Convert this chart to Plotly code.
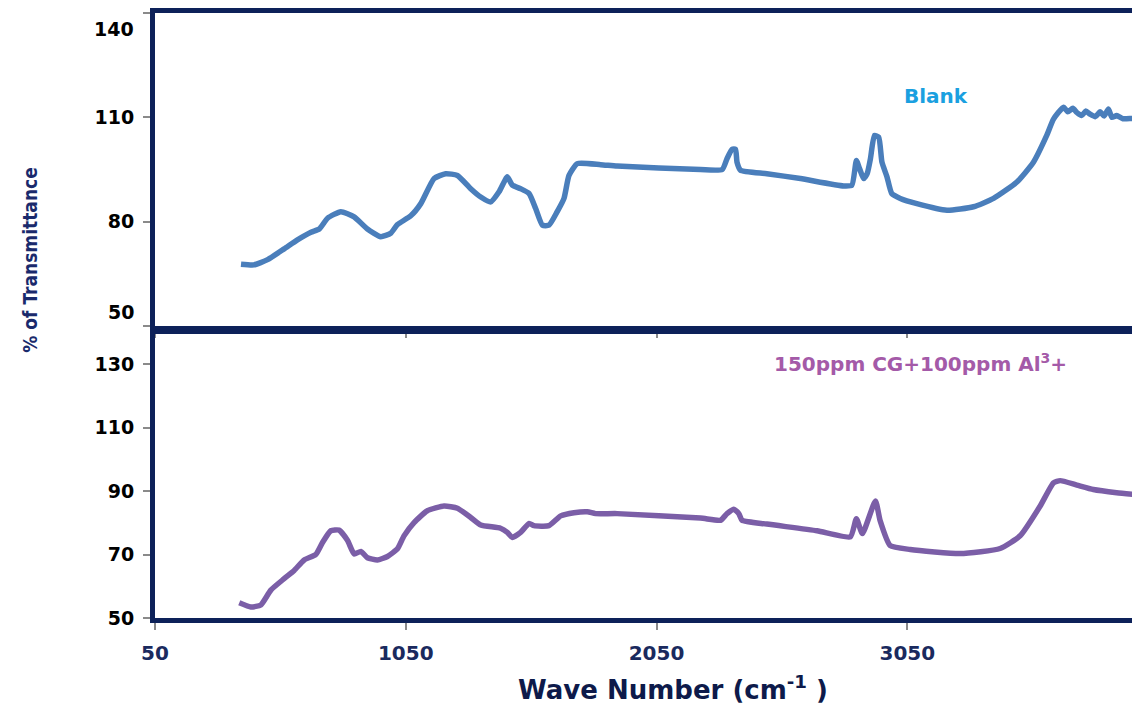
import plotly.graph_objects as go

# ---- data ----
blank_wn = [393, 444, 499, 565, 618, 672, 705, 738, 791, 844, 897, 950, 990, 1017, 1070, 1110,
            1163, 1209, 1256, 1309, 1349, 1389, 1422, 1455, 1475, 1508, 1542, 1568, 1595, 1621,
            1654, 1681, 1701, 1734, 1827, 1893, 2225, 2312, 2331, 2351, 2365, 2371, 2385, 2490,
            2624, 2796, 2829, 2847, 2860, 2876, 2890, 2903, 2919, 2936, 2949, 2969, 2988, 3022,
            3088, 3208, 3314, 3394, 3487, 3553, 3606, 3633, 3673, 3690, 3710, 3726, 3745, 3762,
            3779, 3800, 3819, 3835, 3852, 3866, 3885, 3910, 3952, 3978]
blank_t = [67.8, 67.6, 69.1, 72.2, 74.8, 77.0, 77.9, 81.0, 82.9, 81.4, 77.9, 75.7, 76.7, 79.2,
           81.7, 85.2, 92.4, 93.8, 93.3, 89.5, 87.1, 85.7, 88.6, 92.9, 90.5, 89.5, 88.1, 83.8,
           79.0, 79.0, 82.9, 86.7, 93.3, 96.7, 96.4, 96.0, 95.0, 95.0, 98.1, 100.8, 100.8, 97.1,
           94.8, 93.8, 92.4, 90.3, 90.5, 97.6, 95.2, 92.4, 93.8, 98.1, 104.8, 104.3, 97.1, 92.9,
           88.1, 86.7, 85.2, 83.3, 84.3, 86.7, 91.4, 97.1, 104.8, 109.5, 112.9, 111.6, 112.6,
           111.4, 110.5, 111.8, 110.9, 110.2, 111.6, 110.4, 112.4, 110.0, 110.5, 109.6, 109.7, 109.5]

al_wn = [386, 432, 472, 512, 565, 605, 645, 691, 718, 751, 784, 818, 844, 871, 897, 937, 977,
         1017, 1043, 1083, 1136, 1203, 1256, 1309, 1349, 1428, 1455, 1475, 1508, 1542, 1561,
         1621, 1668, 1721, 1774, 1807, 1893, 2225, 2305, 2331, 2358, 2378, 2391, 2490, 2690,
         2823, 2847, 2871, 2923, 2942, 2982, 3062, 3261, 3420, 3500, 3580, 3633, 3660, 3726,
         3792, 3885, 3978]
al_t = [54.8, 53.5, 54.1, 58.8, 62.4, 65.0, 68.3, 70.0, 73.8, 77.5, 77.7, 74.4, 70.2, 71.0,
        69.0, 68.3, 69.4, 71.8, 75.9, 80.1, 83.8, 85.3, 84.6, 81.7, 79.3, 78.3, 77.0, 75.4,
        77.0, 79.8, 79.1, 79.1, 82.2, 83.2, 83.5, 82.9, 82.9, 81.5, 80.8, 82.9, 84.3, 82.9,
        80.8, 79.6, 77.5, 75.6, 81.3, 76.6, 86.9, 80.6, 72.8, 71.6, 70.3, 71.9, 75.9, 85.3,
        92.6, 93.3, 91.9, 90.5, 89.5, 88.8]

x_ticks = [50, 1050, 2050, 3050]
top_y_ticks = [50, 80, 110, 140]
top_y_labels = ["", "80", "110", ""]   # end labels drawn inset from their ticks, as in the reference
bot_y_ticks = [50, 70, 90, 110, 130]

NAVY = "#0d2159"
FRAME_W = 5
TICKFAMILY = "DejaVu Sans, Liberation Sans, Arial, sans-serif"

fig = go.Figure()
fig.add_trace(go.Scatter(x=blank_wn, y=blank_t, mode="lines",
                         line=dict(color="#4a7ebb", width=5.5, shape="spline", smoothing=0.5),
                         xaxis="x", yaxis="y", showlegend=False))
fig.add_trace(go.Scatter(x=al_wn, y=al_t, mode="lines",
                         line=dict(color="#7b5ea7", width=5.5, shape="spline", smoothing=0.5),
                         xaxis="x2", yaxis="y2", showlegend=False))

tick_common = dict(ticks="outside", ticklen=7, tickcolor="#8a8a8a", tickwidth=1.5,
                   showgrid=False, zeroline=False, showline=True, linecolor=NAVY,
                   linewidth=FRAME_W)

# page body adds an 8px offset; figure is sized so the plot lands where the reference has it
fig.update_layout(
    width=1132, height=699,
    margin=dict(l=147, r=0, t=3, b=89),
    paper_bgcolor="white", plot_bgcolor="white",
    xaxis=dict(domain=[0, 1], range=[50, 3978], anchor="y", tickvals=x_ticks,
               showticklabels=False, mirror=True, **tick_common),
    yaxis=dict(domain=[0.4825, 1], range=[50, 140], anchor="x", tickvals=top_y_ticks,
               ticktext=top_y_labels, ticklabelstandoff=5,
               tickfont=dict(family=TICKFAMILY, size=19, color="black", weight="bold"),
               **tick_common),
    xaxis2=dict(domain=[0, 1], range=[50, 3978], anchor="y2", tickvals=x_ticks,
                mirror=True, ticklabelstandoff=6,
                tickfont=dict(family=TICKFAMILY, size=20, color="#1a2a5e", weight="bold"),
                **tick_common),
    yaxis2=dict(domain=[0, 0.4688], range=[50, 139.4], anchor="x2", tickvals=bot_y_ticks,
                ticklabelstandoff=5,
                tickfont=dict(family=TICKFAMILY, size=19, color="black", weight="bold"),
                **tick_common),
)

for val, shift in ((top_y_ticks[-1], -16), (top_y_ticks[0], 14)):
    fig.add_annotation(text=str(val), xref="paper", yref="y", x=0, y=val,
                       xanchor="right", yanchor="middle", xshift=-19, yshift=shift,
                       showarrow=False,
                       font=dict(family=TICKFAMILY, size=19, color="black", weight="bold"))
fig.add_annotation(text="% of Transmittance", xref="paper", yref="paper",
                   x=-0.127, y=0.592, xanchor="center", yanchor="middle", textangle=-90,
                   showarrow=False,
                   font=dict(family="DejaVu Sans Condensed, Liberation Sans Narrow, Liberation Sans, sans-serif",
                             size=19, color="#1a2a6c", weight="bold"))
fig.add_annotation(text="Wave Number (cm<sup>-1</sup> )", xref="paper", yref="paper",
                   x=0.526, y=-0.116, xanchor="center", yanchor="middle", showarrow=False,
                   font=dict(family=TICKFAMILY, size=26, color="#0d1a4a", weight="bold"))
fig.add_annotation(text="Blank", xref="paper", yref="paper", x=0.793, y=0.862,
                   xanchor="center", yanchor="middle", showarrow=False,
                   font=dict(family=TICKFAMILY, size=20, color="#1aa0e0", weight="bold"))
fig.add_annotation(text="150ppm CG+100ppm Al<sup>3</sup>+", xref="paper", yref="paper",
                   x=0.777, y=0.421, xanchor="center", yanchor="middle", showarrow=False,
                   font=dict(family=TICKFAMILY, size=20, color="#a45aa8", weight="bold"))

fig.write_html("out.html")
